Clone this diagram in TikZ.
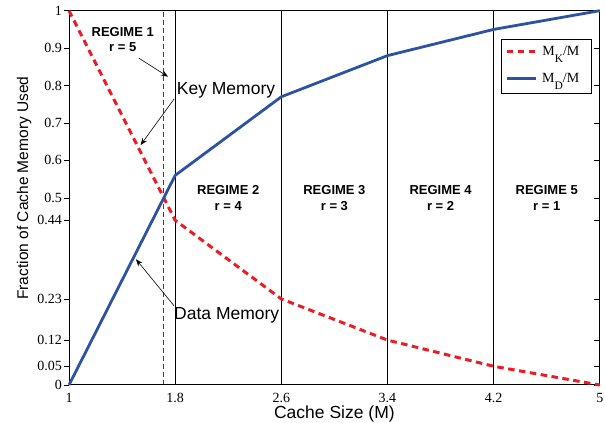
\documentclass[tikz,border=0pt]{standalone}
\usepackage{fontspec}
\setmainfont{Liberation Serif}
\setsansfont{Liberation Sans}
\usetikzlibrary{arrows.meta}
\definecolor{keyred}{RGB}{237,28,36}
\definecolor{datablue}{RGB}{46,82,162}
\newcommand{\lowsub}[1]{\raisebox{-6.5pt}{\fontsize{11.5}{12}\selectfont #1}}
\tikzset{
	key line/.style={draw=keyred,line width=3pt,dash pattern=on 6.5pt off 4.5pt},
	data line/.style={draw=datablue,line width=2.8pt,line join=round},
	regime label/.style={font=\sffamily\bfseries\fontsize{13}{15.5}\selectfont,align=center,inner sep=0pt},
	callout/.style={font=\sffamily\fontsize{17.5}{20}\selectfont,inner sep=0pt},
	axis label/.style={font=\sffamily\fontsize{17.5}{20}\selectfont,inner sep=0pt},
	tick label/.style={font=\fontsize{14}{16}\selectfont,inner sep=0pt},
	pointer/.style={-{Stealth[length=7pt,width=5.5pt]},line width=0.6pt}
}

\begin{document}
\begin{tikzpicture}[x=132.7pt,y=374.3pt]
	\useasboundingbox (0.48,-0.0989) rectangle (5.0392,1.0286);
	% regime boundaries
	\draw[black!75,line width=0.8pt,dash pattern=on 5pt off 3pt] (1.714,0) -- (1.714,1);
	\foreach \x/\w in {1.8/0.8pt,2.6/1.6pt,3.4/1.1pt,4.2/0.8pt}
		\draw[line width=\w] (\x,0) -- (\x,1);
	% ticks and tick labels
	\foreach \y [count=\i] in {0,0.05,0.12,0.23,0.44,0.5,0.6,0.7,0.8,0.9,1}{
		\draw[line width=0.7pt] (1,\y) -- ++(-5pt,0) (5,\y) -- ++(-6pt,0);
		\node[tick label,anchor=east,xshift=-7pt] (ytick\i) at (1,\y) {\y};
	}
	\foreach \x [count=\i] in {1,1.8,2.6,3.4,4.2,5}
		\node[tick label,anchor=north,yshift=-8pt] (xtick\i) at (\x,0) {\x};
	\draw[line width=1pt] (1,0) rectangle (5,1);
	% curves
	\draw[key line] plot coordinates {(1,1) (1.8,0.44) (2.6,0.23) (3.4,0.12) (4.2,0.05) (5,0)};
	\draw[data line] plot coordinates {(1,0) (1.8,0.56) (2.6,0.77) (3.4,0.88) (4.2,0.95) (5,1)};
	% regimes
	\node[regime label] (reg1) at (1.405,0.9225) {REGIME 1\\r = 5};
	\foreach \x/\r [count=\i from 2] in {2.2/4,3.0/3,3.8/2,4.6/1}
		\node[regime label] (reg\i) at (\x,0.5) {REGIME \i\\r = \r};
	% call-outs
	\node[callout,anchor=base west] (keymem) at (1.8116,0.7748) {Key Memory};
	\node[callout,anchor=base west] (datamem) at (1.7913,0.1737) {Data Memory};
	\coordinate (regtip) at (1.746,0.8237);
	\coordinate (keytip) at (1.540,0.6412);
	\coordinate (datatip) at (1.505,0.3358);
	\draw[pointer] ([xshift=-15pt,yshift=-6pt]reg1.south east) -- (regtip);
	\draw[pointer] ([xshift=-2.5pt]keymem.south west) -- (keytip);
	\draw[pointer] ([yshift=2pt]datamem.north west) -- (datatip);
	% axis labels
	\node[axis label,anchor=base,yshift=-33.3pt] (xlabel) at (3,0) {Cache Size (M)};
	\node[axis label,font=\sffamily\fontsize{15.5}{18}\selectfont,rotate=90] (ylabel) at (0.661,0.526) {Fraction of Cache Memory Used};
	% legend
	\node[draw,line width=0.9pt,fill=white,minimum width=90.6pt,minimum height=54pt,anchor=north east,inner sep=0pt] (legend) at (4.9435,0.9236) {};
	\draw[key line] ([xshift=6pt,yshift=-12.4pt]legend.north west) -- ++(29pt,0)
		node[tick label,anchor=base west,xshift=5pt,yshift=-4.3pt] (legkey) {M\lowsub{K}/M};
	\draw[data line] ([xshift=6pt,yshift=-39pt]legend.north west) -- ++(29pt,0)
		node[tick label,anchor=base west,xshift=5pt,yshift=-4.3pt] (legdata) {M\lowsub{D}/M};
\end{tikzpicture}
\end{document}
